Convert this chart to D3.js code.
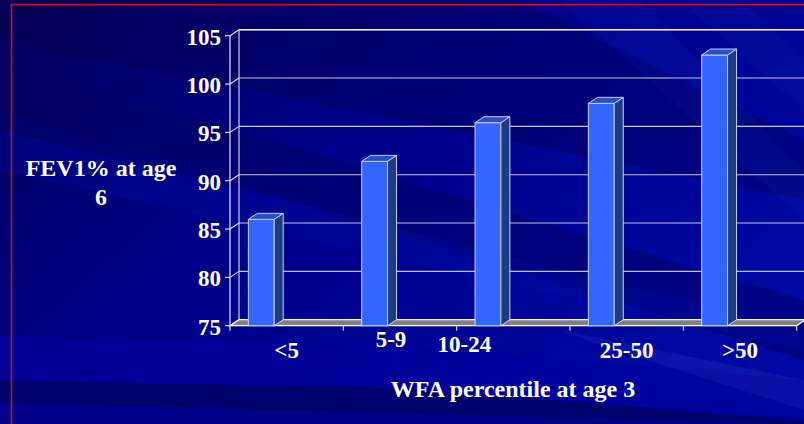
<!DOCTYPE html>
<html>
<head>
<meta charset="utf-8">
<script src="https://cdn.jsdelivr.net/npm/d3@7"></script>
<style>
  html, body { margin: 0; padding: 0; background: #000080; }
  svg { display: block; }
  text { font-family: "Liberation Serif", "Times New Roman", serif; font-weight: bold; fill: #ffffff; }
</style>
</head>
<body>
<svg id="chart" width="804" height="424"></svg>
<script>
// FEV1% at age 6 by weight-for-age percentile at age 3
const categories = ["<5", "5-9", "10-24", "25-50", ">50"];
const fev1 = [86, 92, 96, 98, 103];
const yTicks = [75, 80, 85, 90, 95, 100, 105];
const yTitle = ["FEV1% at age", "6"];
const xTitle = "WFA percentile at age 3";

const W = 804, H = 424;
const svg = d3.select("#chart");
const defs = svg.append("defs");

// ---- slide background: navy with diagonal streaks ----
const bg = defs.append("linearGradient").attr("id", "bgGrad")
  .attr("x1", "0").attr("y1", "0").attr("x2", "1").attr("y2", "0.6");
bg.append("stop").attr("offset", "0").attr("stop-color", "#00005a");
bg.append("stop").attr("offset", "0.45").attr("stop-color", "#000088");
bg.append("stop").attr("offset", "1").attr("stop-color", "#0008a2");
svg.append("rect").attr("width", W).attr("height", H).attr("fill", "url(#bgGrad)");

const streaks = [
  { d: "M0,60 L804,300 L804,360 L0,110 Z", c: "#000060", o: 0.45 },
  { d: "M0,130 L804,330 L804,350 L0,170 Z", c: "#0010b0", o: 0.25 },
  { d: "M0,0 L520,0 L804,140 L804,200 L0,40 Z", c: "#000050", o: 0.35 },
  { d: "M0,335 L400,345 L804,380 L804,424 L0,424 Z", c: "#00009c", o: 0.7 },
  { d: "M0,380 L400,388 L804,420 L804,424 L0,424 Z", c: "#000058", o: 0.7 },
  { d: "M0,402 L804,424 L0,424 Z", c: "#00008c", o: 0.9 },
  { d: "M560,330 L804,380 L804,410 L600,345 Z", c: "#3a48c8", o: 0.2 },
  { d: "M560,0 L640,0 L804,170 L804,220 Z", c: "#1428b8", o: 0.15 },
  { d: "M680,0 L740,0 L804,60 L804,110 Z", c: "#1428b8", o: 0.12 }
];
svg.append("g").selectAll("path").data(streaks).join("path")
  .attr("d", s => s.d).attr("fill", s => s.c).attr("opacity", s => s.o);

// slide frame
svg.append("path").attr("d", "M11.5,430 L11.5,4.5 L810,4.5")
  .attr("fill", "none").attr("stroke", "#c8102e").attr("stroke-width", 1.6);

// ---- scales ----
const x = d3.scaleBand().domain(categories).range([230, 796.7]);
const y = d3.scaleLinear().domain([75, 105]).range([325.7, 35.7]);
const dx = 9, dy = -6;                 // depth offset of the 3D box
const x0 = x.range()[0], x1 = x.range()[1];
const bw = x.bandwidth();
const yBase = y(75);

const grid = svg.append("g");
// back-wall gridlines
grid.selectAll("line.g").data(yTicks).join("line").attr("class", "g")
  .attr("x1", x0 + dx).attr("x2", x1 + dx + 10)
  .attr("y1", t => y(t) + dy).attr("y2", t => y(t) + dy)
  .attr("stroke", t => t === 105 ? "#ffffff" : "#c4c4dc")
  .attr("stroke-width", t => t === 105 ? 1.6 : 1.1);
// side-wall connectors
grid.selectAll("line.c").data(yTicks).join("line").attr("class", "c")
  .attr("x1", x0).attr("x2", x0 + dx)
  .attr("y1", t => y(t)).attr("y2", t => y(t) + dy)
  .attr("stroke", "#e0e0f0").attr("stroke-width", 1.1);
// side-wall verticals
grid.append("line").attr("x1", x0 + dx).attr("x2", x0 + dx)
  .attr("y1", y(105) + dy).attr("y2", yBase + dy)
  .attr("stroke", "#e0e0f0").attr("stroke-width", 1.1);
grid.append("line").attr("x1", x0).attr("x2", x0)
  .attr("y1", y(105)).attr("y2", yBase)
  .attr("stroke", "#e8e8f4").attr("stroke-width", 1.2);
// y ticks
grid.selectAll("line.t").data(yTicks).join("line").attr("class", "t")
  .attr("x1", x0 - 5).attr("x2", x0)
  .attr("y1", t => y(t)).attr("y2", t => y(t))
  .attr("stroke", "#e8e8f4").attr("stroke-width", 1.1);

// floor
svg.append("path")
  .attr("d", `M${x0},${yBase} L${x1},${yBase} L${x1 + dx},${yBase + dy} L${x0 + dx},${yBase + dy} Z`)
  .attr("fill", "#808080");
svg.append("path")
  .attr("d", `M${x0},${yBase} L${x0 + dx},${yBase + dy} L${x1 + dx},${yBase + dy} L${x1},${yBase} Z`)
  .attr("fill", "none").attr("stroke", "#ffffff").attr("stroke-width", 1.3);

// x ticks at category boundaries
const bounds = categories.map(c => x(c)).concat([x1]);
svg.append("g").selectAll("line").data(bounds).join("line")
  .attr("x1", d => d).attr("x2", d => d)
  .attr("y1", yBase).attr("y2", yBase + 5)
  .attr("stroke", "#e8e8f4").attr("stroke-width", 1.1);

// ---- 3D columns ----
const data = categories.map((c, i) => ({ c, v: fev1[i] }));
const barOff = bw * 0.162, barW = bw * 0.228;
const bars = svg.append("g").selectAll("g").data(data).join("g");
const outline = "#c8d0ff";
bars.append("rect")
  .attr("x", d => x(d.c) + barOff).attr("y", d => y(d.v))
  .attr("width", barW).attr("height", d => yBase - y(d.v))
  .attr("fill", "#3366ff").attr("stroke", outline).attr("stroke-width", 1);
bars.append("path")
  .attr("d", d => {
    const l = x(d.c) + barOff + barW, t = y(d.v);
    return `M${l},${t} L${l + dx},${t + dy} L${l + dx},${yBase + dy} L${l},${yBase} Z`;
  })
  .attr("fill", "#1e3a80").attr("stroke", outline).attr("stroke-width", 1);
bars.append("path")
  .attr("d", d => {
    const l = x(d.c) + barOff, t = y(d.v);
    return `M${l},${t} L${l + dx},${t + dy} L${l + barW + dx},${t + dy} L${l + barW},${t} Z`;
  })
  .attr("fill", "#2a50c8").attr("stroke", outline).attr("stroke-width", 1);

// ---- text ----
svg.append("g").selectAll("text").data(yTicks).join("text")
  .attr("x", 221).attr("y", t => y(t) + 9)
  .attr("text-anchor", "end").attr("font-size", 23)
  .text(t => t);

// category labels (two of them sit nudged off their column centres)
const nudge = { "5-9": [-9, -11], "10-24": [-49, -6] };
svg.append("g").selectAll("text").data(categories).join("text")
  .attr("x", c => x(c) + bw / 2 + (nudge[c] ? nudge[c][0] : 0))
  .attr("y", c => yBase + 32 + (nudge[c] ? nudge[c][1] : 0))
  .attr("text-anchor", "middle").attr("font-size", 23)
  .text(c => c);

svg.append("text").attr("x", 513).attr("y", 397)
  .attr("text-anchor", "middle").attr("font-size", 24).text(xTitle);

svg.append("g").selectAll("text").data(yTitle).join("text")
  .attr("x", 101).attr("y", (d, i) => 176 + i * 29)
  .attr("text-anchor", "middle").attr("font-size", 24).text(d => d);
</script>
</body>
</html>
